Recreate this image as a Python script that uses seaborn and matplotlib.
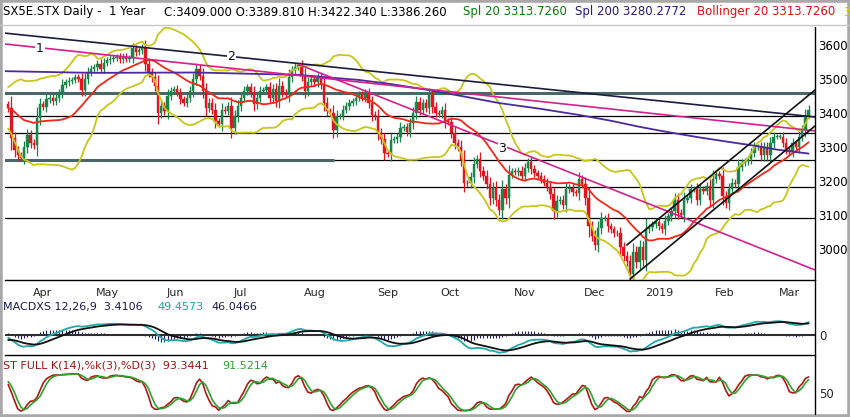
import numpy as np
import pandas as pd
import seaborn as sns
import matplotlib.pyplot as plt
import matplotlib.transforms as mtrans
from matplotlib.patches import Rectangle
from matplotlib.lines import Line2D

W, H = 850, 417

# closes before the visible year, only used to warm up the indicators
prior_close = [3610, 3615, 3600, 3620, 3640, 3650, 3655, 3640, 3620, 3645,
               3650, 3640, 3620, 3610, 3520, 3480, 3440, 3460, 3380, 3340,
               3360, 3370, 3360, 3390, 3400, 3420, 3410, 3425, 3420, 3440,
               3445, 3440, 3440, 3390, 3360, 3365, 3345, 3380, 3400, 3420,
               3430, 3425, 3440, 3440, 3450, 3430, 3425]

# daily closes, 21 Mar 2018 - 15 Mar 2019
close = [3415, 3325, 3290, 3275, 3268, 3300, 3335, 3312, 3305, 3385,
         3425, 3418, 3440, 3445, 3435, 3445, 3458, 3483, 3490, 3495,
         3498, 3505, 3500, 3468, 3500, 3520, 3530, 3535, 3545, 3530,
         3548, 3555, 3560, 3562, 3565, 3558, 3566, 3560, 3563, 3590,
         3580, 3585, 3592, 3545, 3520, 3505, 3480, 3400, 3420, 3405,
         3450, 3465, 3470, 3460, 3440, 3430, 3445, 3465, 3500, 3530,
         3510, 3465, 3415, 3430, 3410, 3375, 3368, 3410, 3405, 3420,
         3355, 3390, 3420, 3445, 3465, 3475, 3460, 3425, 3445, 3465,
         3468, 3475, 3445, 3470, 3435, 3480, 3460, 3455, 3505, 3525,
         3535, 3540, 3510, 3465, 3490, 3500, 3490, 3505, 3485, 3430,
         3405, 3400, 3350, 3390, 3392, 3410, 3420, 3430, 3435, 3445,
         3455, 3445, 3458, 3430, 3395, 3390, 3342, 3322, 3282, 3278,
         3320, 3322, 3330, 3356, 3358, 3345, 3370, 3400, 3433, 3410,
         3428, 3415, 3453, 3418, 3400, 3398, 3410, 3375, 3372, 3342,
         3312, 3300, 3262, 3195, 3193, 3212, 3250, 3265, 3230, 3215,
         3190, 3150, 3180, 3145, 3115, 3175, 3148, 3218, 3228, 3225,
         3230, 3215, 3238, 3255, 3235, 3222, 3215, 3205, 3195, 3182,
         3160, 3110, 3140, 3145, 3130, 3175, 3180, 3168, 3165, 3205,
         3190, 3148, 3066, 3038, 3012, 3060, 3090, 3090, 3066, 3057,
         3047, 3045, 3004, 2980, 2963, 2925, 2990, 2960, 3005, 2968,
         3057, 3063, 3072, 3080, 3066, 3057, 3083, 3095, 3110, 3145,
         3106, 3100, 3145, 3150, 3175, 3177, 3145, 3175, 3170, 3185,
         3145, 3205, 3220, 3215, 3155, 3135, 3175, 3195, 3190, 3240,
         3253, 3257, 3263, 3283, 3300, 3300, 3275, 3300, 3275, 3310,
         3330, 3330, 3330, 3312, 3292, 3285, 3310, 3300, 3330, 3350,
         3392, 3409]

last_open, last_high, last_low = 3389.81, 3422.34, 3386.26
holidays = ['2018-03-30', '2018-04-02', '2018-05-01', '2018-12-25', '2018-12-26', '2019-01-01']

# 200 day average (purple), read at a few dates
sma200_dates = ['2018-03-20', '2018-04-20', '2018-05-03', '2018-06-15', '2018-07-31', '2018-08-27',
                '2018-09-10', '2018-09-26', '2018-10-10', '2018-10-26', '2018-11-14', '2018-11-30',
                '2018-12-14', '2018-12-31', '2019-01-11', '2019-01-25', '2019-02-07', '2019-02-21',
                '2019-03-01', '2019-03-15']
sma200_values = [3523, 3519, 3518, 3519, 3512, 3497, 3485, 3467, 3450, 3429, 3412, 3394,
                 3377, 3359, 3345, 3329, 3316, 3302, 3292, 3280.3]

# drawn trend lines: (start date, price), (anchor date, price), colour, label
trend_lines = [
    (('2018-03-21', 3602), ('2019-03-15', 3349), '#d3208c', '1'),
    (('2018-03-21', 3634), ('2019-03-15', 3390), '#1c1c3c', '2'),
    (('2018-07-31', 3543), ('2019-03-15', 2945), '#d3208c', '3'),
    (('2018-12-21', 3011), ('2019-03-15', 3452), '#111111', None),
    (('2018-12-24', 2911), ('2019-03-15', 3346), '#111111', None),
]
label_spots = {'1': ('2018-04-06', 3591), '2': ('2018-07-02', 3565), '3': ('2018-10-29', 3296)}
levels = [3460, 3392, 3342, 3261, 3181, 3092]

month_names = ['Apr', 'May', 'Jun', 'Jul', 'Aug', 'Sep', 'Oct', 'Nov', 'Dec', '2019', 'Feb', 'Mar']

# ---- build the table
dates = pd.bdate_range('2018-01-15', '2019-03-15')
dates = dates[~dates.isin(pd.to_datetime(holidays))]
df = pd.DataFrame({'date': dates, 'close': prior_close + close})
df['x'] = np.arange(len(df)) - len(prior_close)
df['open'] = df['close'].shift(1).fillna(df['close'])
df.loc[df.index[-1], 'open'] = last_open
body = (df['close'] - df['open']).abs()
df['high'] = df[['open', 'close']].max(axis=1) + 0.3 * body + 8
df['low'] = df[['open', 'close']].min(axis=1) - 0.3 * body - 8
df.loc[df.index[-1], ['high', 'low']] = [last_high, last_low]

df['mid'] = df['close'].rolling(20).mean()
sd = df['close'].rolling(20).std(ddof=0)
df['up'] = df['mid'] + 2 * sd
df['dn'] = df['mid'] - 2 * sd

ema12 = df['close'].ewm(span=12, adjust=False).mean()
ema26 = df['close'].ewm(span=26, adjust=False).mean()
df['macd'] = ema12 - ema26
df['sig'] = df['macd'].ewm(span=9, adjust=False).mean()
df['hist'] = df['macd'] - df['sig']

hh = df['high'].rolling(14).max()
ll = df['low'].rolling(14).min()
raw = 100 * (df['close'] - ll) / (hh - ll)
df['k'] = raw.rolling(3).mean()
df['d'] = df['k'].rolling(3).mean()

pos = dict(zip(df['date'].dt.strftime('%Y-%m-%d'), df['x']))
v = df[df['x'] >= 0].copy()

sns.set_theme(style='white')
plt.rcParams['font.family'] = ['DejaVu Sans']

fig = plt.figure(figsize=(W / 100, H / 100), dpi=100)
fig.patch.set_facecolor('white')


def px_rect(l, t, r, b):
    return [l / W, 1 - b / H, (r - l) / W, (b - t) / H]


ax = fig.add_axes(px_rect(5, 27, 815, 280))
ax_m = fig.add_axes(px_rect(5, 313, 815, 355))
ax_s = fig.add_axes(px_rect(5, 368, 815, 414))
XLIM = (-1, 253)

# ---- price panel
for lv in levels:
    if lv == 3460:
        ax.axhline(lv, color='#4a6666', lw=2.2, zorder=1)
    elif lv == 3261:
        ax.axhline(lv, color='black', lw=0.9, zorder=1)
        ax.plot([XLIM[0], 102], [lv, lv], color='#4a6666', lw=2.2, zorder=1)
    else:
        ax.axhline(lv, color='black', lw=0.9, zorder=1)

green, red = '#17864a', '#e3141e'
cols = np.where(v['close'] >= v['open'], green, red)
ax.vlines(v['x'], v['low'], v['high'], colors=cols, lw=0.9, zorder=2)
ax.bar(v['x'], np.maximum(body[v.index], 2), bottom=v[['open', 'close']].min(axis=1),
       width=0.75, color=cols, edgecolor=cols, linewidth=0.3, zorder=2)

for col, c in [('up', '#c9c61a'), ('dn', '#c9c61a'), ('mid', '#f0281a')]:
    sns.lineplot(x=v['x'], y=v[col], ax=ax, color=c, linewidth=1.3, zorder=3)

sx = [pos[d] for d in sma200_dates]
sns.lineplot(x=sx, y=sma200_values, ax=ax, color='#4b2a9c', linewidth=1.3, zorder=3)

for (d0, p0), (d1, p1), c, lab in trend_lines:
    x0, x1 = pos[d0], pos[d1]
    slope = (p1 - p0) / (x1 - x0)
    xs = [x0 if lab in ('3', None) else XLIM[0], XLIM[1]]
    ys = [p0 + slope * (xx - x0) for xx in xs]
    ax.plot(xs, ys, color=c, lw=1.2, zorder=3)
    if lab:
        d, p = label_spots[lab]
        ax.text(pos[d], p, lab, fontsize=9, ha='center', va='center', color='#111111', zorder=4,
                bbox=dict(facecolor='white', edgecolor='none', pad=0.6))

ax.set_xlim(XLIM)
ax.set_ylim(2908, 3653)
ax.set_yticks([3000, 3100, 3200, 3300, 3400, 3500, 3600])
ax.yaxis.tick_right()
ax.tick_params(axis='y', length=0, pad=2, labelsize=8.5, colors='black')

firsts = v.groupby(v['date'].dt.to_period('M'))['x'].first().iloc[1:]
ax.set_xticks(firsts.values)
ax.set_xticklabels(month_names[:len(firsts)], ha='left')
ax.tick_params(axis='x', direction='out', length=5, width=1, color='black', pad=1, labelsize=8)
offset = mtrans.ScaledTranslation(2 / 100, 0, fig.dpi_scale_trans)
for lbl in ax.get_xticklabels():
    lbl.set_transform(lbl.get_transform() + offset)
ax.set_xlabel('')
ax.set_ylabel('')

# ---- MACD panel
ax_m.vlines(v['x'], 0, v['hist'], colors='#1c1c64', lw=0.8)
ax_m.axhline(0, color='#303030', lw=1.5)
sns.lineplot(x=v['x'], y=v['macd'], ax=ax_m, color='#22a8a8', linewidth=1.3)
sns.lineplot(x=v['x'], y=v['sig'], ax=ax_m, color='#111111', linewidth=1.3)
ax_m.set_xlim(XLIM)
ax_m.set_ylim(-67, 73)
ax_m.set_xticks([])
ax_m.set_yticks([0])
ax_m.yaxis.tick_right()
ax_m.tick_params(axis='y', length=0, pad=3, labelsize=8.5)
ax_m.set_xlabel('')
ax_m.set_ylabel('')

# ---- stochastic panel
sns.lineplot(x=v['x'], y=v['k'], ax=ax_s, color='#b01818', linewidth=1.2)
sns.lineplot(x=v['x'], y=v['d'], ax=ax_s, color='#2ea32e', linewidth=1.2)
ax_s.set_xlim(XLIM)
ax_s.set_ylim(0, 110)
ax_s.set_xticks([])
ax_s.set_yticks([50])
ax_s.yaxis.tick_right()
ax_s.tick_params(axis='y', length=0, pad=3, labelsize=8.5)
ax_s.set_xlabel('')
ax_s.set_ylabel('')

for a in (ax, ax_m, ax_s):
    a.set_facecolor('white')
    for s in ('top', 'left', 'right'):
        a.spines[s].set_visible(False)
    a.spines['bottom'].set_color('black')
    a.spines['bottom'].set_linewidth(1)
ax_s.spines['bottom'].set_visible(False)

# ---- frame and headers
fig.add_artist(Line2D([815 / W, 815 / W], [1 - 27 / H, 1 - 414 / H], color='black', lw=1))
fig.add_artist(Line2D([0, 1], [1 - 25 / H, 1 - 25 / H], color='#c8c8c8', lw=1))
fig.add_artist(Rectangle((0, 0), 1, 1, transform=fig.transFigure, fill=False,
                         edgecolor='#a8a8a8', lw=4))


def header(x, y, s, c, size=8.5):
    fig.text(x / W, 1 - y / H, s, color=c, fontsize=size, ha='left', va='center')


header(3, 12, 'SX5E.STX Daily -  1 Year', 'black')
header(164, 12, 'C:3409.000 O:3389.810 H:3422.340 L:3386.260', 'black')
header(463, 12, 'Spl 20 3313.7260', '#0a7a0a')
header(575, 12, 'Spl 200 3280.2772', '#2a1a7a')
header(697, 12, 'Bollinger 20 3313.7260', '#e01010')
header(843, 12, '33', '#c8c800')
header(3, 307, 'MACDXS 12,26,9  3.4106', '#1a1a50', 8)
header(157, 307, '49.4573', '#22a0a0', 8)
header(211, 307, '46.0466', '#1a1a50', 8)
header(3, 366, 'ST FULL K(14),%k(3),%D(3)  93.3441', '#a01515', 8)
header(222, 366, '91.5214', '#2ea32e', 8)

fig.savefig('out.png', dpi=100)
